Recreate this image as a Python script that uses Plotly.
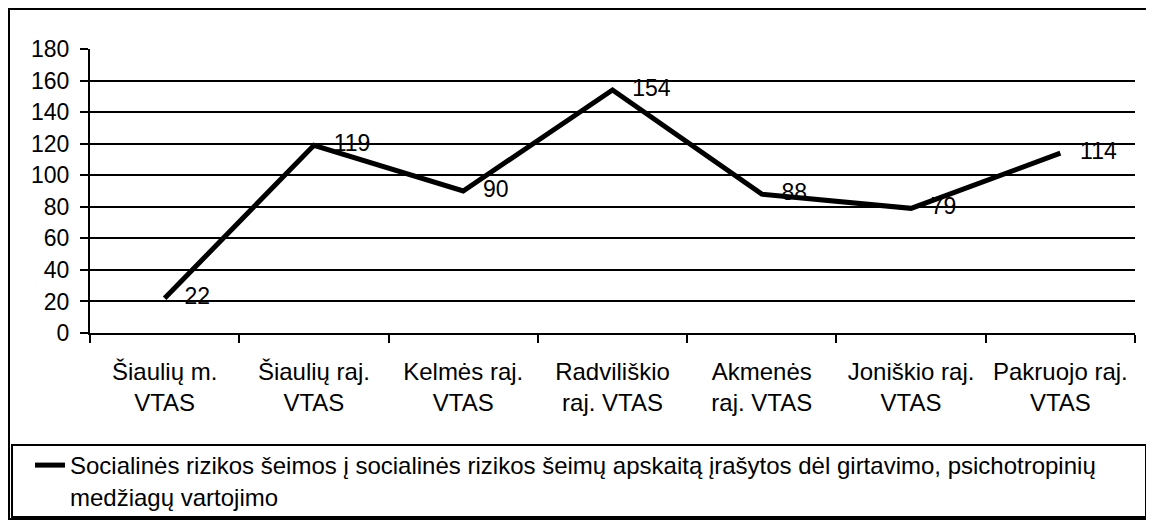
import plotly.graph_objects as go

categories = ["Šiaulių m.<br>VTAS", "Šiaulių raj.<br>VTAS", "Kelmės raj.<br>VTAS",
              "Radviliškio<br>raj. VTAS", "Akmenės<br>raj. VTAS", "Joniškio raj.<br>VTAS",
              "Pakruojo raj.<br>VTAS"]
values = [22, 119, 90, 154, 88, 79, 114]
series_name = ("Socialinės rizikos šeimos į socialinės rizikos šeimų apskaitą įrašytos dėl girtavimo, psichotropinių"
               "<br>medžiagų vartojimo")
y_ticks = [0, 20, 40, 60, 80, 100, 120, 140, 160, 180]

# page has an 8px body margin; work in page coordinates and shift
OFF = 8
W, H = 1154 - OFF, 522 - OFF
PL, PR, PT, PB = 90, 1135, 49, 333  # plot area in page coords
L, R, T, B = PL - OFF, W - (PR - OFF), PT - OFF, H - (PB - OFF)
pw, ph = W - L - R, H - T - B

def px(x):
    return (x - OFF - L) / pw

def py(y):
    return (H - B - (y - OFF)) / ph

FONT = "Liberation Sans, Arial, sans-serif"

fig = go.Figure()
fig.add_trace(go.Scatter(
    x=categories, y=values, name=series_name,
    mode="lines",
    line=dict(color="black", width=5),
    hoverinfo="skip",
))
fig.add_trace(go.Scatter(
    x=categories, y=values, showlegend=False,
    mode="markers+text",
    marker=dict(size=30, opacity=0, color="white"),
    text=[str(v) for v in values],
    textposition="middle right",
    textfont=dict(family=FONT, size=23, color="black"),
    cliponaxis=False,
))

fig.update_layout(
    width=W, height=H,
    margin=dict(l=L, r=R, t=T, b=B, autoexpand=False),
    paper_bgcolor="white", plot_bgcolor="white",
    font=dict(family=FONT, size=23, color="black"),
    showlegend=True,
    legend=dict(
        x=px(30), y=py(443), xanchor="left", yanchor="top",
        bgcolor="rgba(0,0,0,0)", borderwidth=0,
        font=dict(family=FONT, size=24, color="black"),
        valign="top", itemwidth=30, tracegroupgap=0,
    ),
    xaxis=dict(
        type="category", tickson="boundaries",
        showgrid=False, showline=True, linecolor="black", linewidth=2,
        ticks="outside", ticklen=8, tickwidth=2, tickcolor="black",
        ticklabelstandoff=16,
        tickfont=dict(family=FONT, size=24, color="black"),
        range=[-0.5, 6.5], fixedrange=True,
    ),
    yaxis=dict(
        range=[0, 180], tickvals=y_ticks,
        showgrid=True, gridcolor="black", gridwidth=2,
        showline=True, linecolor="black", linewidth=2,
        ticks="outside", ticklen=8, tickwidth=2, tickcolor="black",
        ticklabelstandoff=6, zeroline=False,
        tickfont=dict(family=FONT, size=23, color="black"),
        fixedrange=True,
    ),
    shapes=[
        dict(type="rect", xref="paper", yref="paper",
             x0=px(9), x1=px(1151), y0=py(9), y1=py(519),
             line=dict(color="black", width=2), fillcolor="rgba(0,0,0,0)", layer="below"),
        dict(type="rect", xref="paper", yref="paper",
             x0=px(12), x1=px(1146), y0=py(445), y1=py(517),
             line=dict(color="black", width=2), fillcolor="rgba(0,0,0,0)", layer="below"),
    ],
)

fig.write_html("out.html")
